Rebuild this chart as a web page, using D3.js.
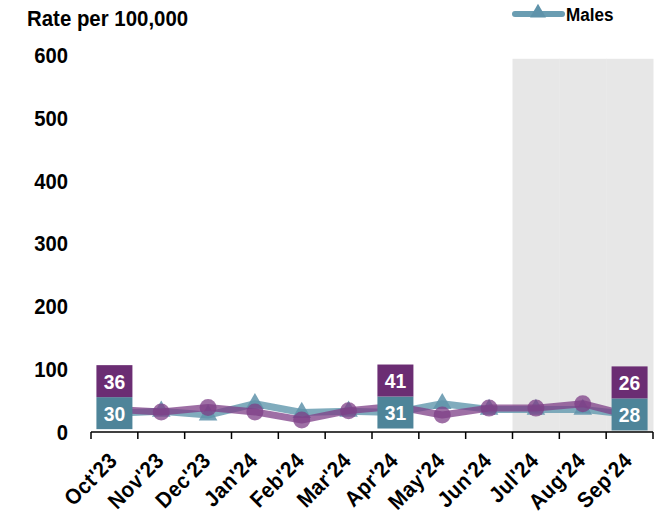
<!DOCTYPE html>
<html>
<head>
<meta charset="utf-8">
<script src="https://cdn.jsdelivr.net/npm/d3@7"></script>
<style>
    body { margin: 0; background: #fff; }
    svg text { font-family: "Liberation Sans", Arial, sans-serif; font-weight: bold; }
</style>
</head>
<body>
<svg id="chart"></svg>
<script>
    // chart values
    let months = ["Oct'23", "Nov'23", "Dec'23", "Jan'24", "Feb'24", "Mar'24",
        "Apr'24", "May'24", "Jun'24", "Jul'24", "Aug'24", "Sep'24"];
    let females = [36, 32, 39, 32, 19, 34, 41, 27, 38, 38, 45, 26];
    let males = [30, 33, 27, 45, 31, 33, 31, 45, 36, 36, 36, 28];
    let shaded = [0, 0, 0, 0, 0, 0, 0, 0, 0, 594, 594, 594];
    let labelled = ["Oct'23", "Apr'24", "Sep'24"];
    let yTicks = [0, 100, 200, 300, 400, 500, 600];

    let svg = d3.select('#chart')
            .attr('width', 656)
            .attr('height', 516);

    let x = d3.scaleBand()
            .domain(months)
            .range([91, 653]);

    let y = d3.scaleLinear()
            .domain([0, 600])
            .range([432, 55]);

    let purple = '#6b2d73';
    let teal = '#4e8499';
    let squeeze = 0.92;

    // shaded months
    svg.append('g')
            .selectAll('rect')
            .data(months)
            .enter()
            .append('rect')
            .attr('x', d => x(d))
            .attr('width', x.bandwidth() + 0.5)
            .attr('y', (d, i) => y(shaded[i]))
            .attr('height', (d, i) => y(0) - y(shaded[i]))
            .attr('fill', '#e7e7e7');

    // y tick labels (no axis line)
    svg.append('g')
            .selectAll('text')
            .data(yTicks)
            .enter()
            .append('text')
            .attr('transform', d => 'translate(68,' + y(d) + ') scale(' + squeeze + ',1)')
            .attr('dy', '0.36em')
            .attr('text-anchor', 'end')
            .attr('font-size', 22)
            .text(d => d);

    svg.append('text')
            .attr('transform', 'translate(27,26) scale(0.95,1)')
            .attr('font-size', 21.5)
            .text('Rate per 100,000');

    // x axis with ticks at band edges
    let axis = svg.append('g');
    axis.append('line')
            .attr('x1', 91).attr('x2', 653)
            .attr('y1', y(0)).attr('y2', y(0))
            .attr('stroke', '#000').attr('stroke-width', 1.5);
    axis.selectAll('.edge')
            .data(months.concat(['end']))
            .enter()
            .append('line')
            .attr('x1', (d, i) => 91 + i * x.step())
            .attr('x2', (d, i) => 91 + i * x.step())
            .attr('y1', y(0))
            .attr('y2', y(0) + 7)
            .attr('stroke', '#000').attr('stroke-width', 1.5);
    axis.selectAll('.lbl')
            .data(months)
            .enter()
            .append('text')
            .attr('text-anchor', 'end')
            .attr('font-size', 22)
            .attr('letter-spacing', 0.5)
            .attr('transform', d => 'translate(' + (x(d) + x.bandwidth() / 2 + 4) + ',' + (y(0) + 30) + ') rotate(-45) scale(' + squeeze + ',1)')
            .text(d => d);

    let cx = d => x(d) + x.bandwidth() / 2;

    let line = values => d3.line()
            .x((d, i) => cx(months[i]))
            .y(d => y(d))(values);

    // males series
    svg.append('path')
            .attr('d', line(males))
            .attr('fill', 'none')
            .attr('stroke', '#6a9db2')
            .attr('stroke-width', 7)
            .attr('stroke-linejoin', 'round')
            .attr('opacity', 0.85);
    svg.append('g')
            .selectAll('path')
            .data(males)
            .enter()
            .append('path')
            .attr('d', d3.symbol().type(d3.symbolTriangle).size(150))
            .attr('transform', (d, i) => 'translate(' + cx(months[i]) + ',' + y(d) + ')')
            .attr('fill', '#5f93aa')
            .attr('opacity', 0.85);

    // females series
    svg.append('path')
            .attr('d', line(females))
            .attr('fill', 'none')
            .attr('stroke', '#7e3f87')
            .attr('stroke-width', 7)
            .attr('stroke-linejoin', 'round')
            .attr('opacity', 0.75);
    svg.append('g')
            .selectAll('circle')
            .data(females)
            .enter()
            .append('circle')
            .attr('cx', (d, i) => cx(months[i]))
            .attr('cy', d => y(d))
            .attr('r', 8.5)
            .attr('fill', '#7e3f87')
            .attr('opacity', 0.75);

    // value boxes
    let boxW = 36, boxH = 32;
    labelled.forEach(function (m) {
        let i = months.indexOf(m);
        let my = y(males[i]);
        let g = svg.append('g');
        g.append('rect')
                .attr('x', cx(m) - boxW / 2)
                .attr('y', my - boxH / 2)
                .attr('width', boxW).attr('height', boxH)
                .attr('fill', teal);
        g.append('text')
                .attr('transform', 'translate(' + cx(m) + ',' + my + ') scale(' + squeeze + ',1)')
                .attr('dy', '0.36em')
                .attr('text-anchor', 'middle')
                .attr('font-size', 21)
                .attr('fill', '#fff')
                .text(males[i]);
        g.append('rect')
                .attr('x', cx(m) - boxW / 2)
                .attr('y', my - boxH / 2 - boxH)
                .attr('width', boxW).attr('height', boxH)
                .attr('fill', purple);
        g.append('text')
                .attr('transform', 'translate(' + cx(m) + ',' + (my - boxH) + ') scale(' + squeeze + ',1)')
                .attr('dy', '0.36em')
                .attr('text-anchor', 'middle')
                .attr('font-size', 21)
                .attr('fill', '#fff')
                .text(females[i]);
    });

    // legend
    let legend = svg.append('g');
    legend.append('line')
            .attr('x1', 515).attr('x2', 562)
            .attr('y1', 14).attr('y2', 14)
            .attr('stroke', '#6a9db2')
            .attr('stroke-width', 6)
            .attr('stroke-linecap', 'round');
    legend.append('path')
            .attr('d', d3.symbol().type(d3.symbolTriangle).size(110))
            .attr('transform', 'translate(538,13)')
            .attr('fill', '#5f93aa');
    legend.append('text')
            .attr('transform', 'translate(566,21) scale(0.9,1)')
            .attr('font-size', 19)
            .text('Males');
</script>
</body>
</html>
